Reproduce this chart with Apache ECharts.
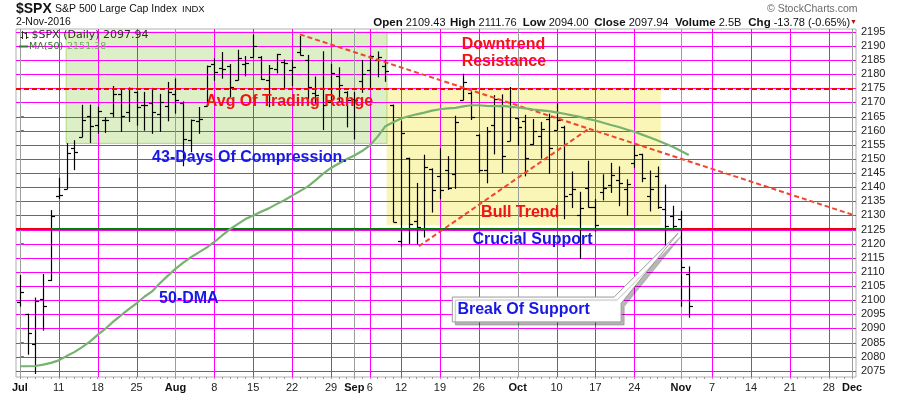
<!DOCTYPE html>
<html><head><meta charset="utf-8">
<script src="https://cdn.jsdelivr.net/npm/echarts@6/dist/echarts.min.js"></script>
<style>html,body{margin:0;padding:0;background:#fff}#c{width:900px;height:396px}</style>
</head><body><div id="c"></div>
<script>
// ---------- DATA ----------
const dates = [
'2016-07-01','2016-07-05','2016-07-06','2016-07-07','2016-07-08',
'2016-07-11','2016-07-12','2016-07-13','2016-07-14','2016-07-15',
'2016-07-18','2016-07-19','2016-07-20','2016-07-21','2016-07-22',
'2016-07-25','2016-07-26','2016-07-27','2016-07-28','2016-07-29',
'2016-08-01','2016-08-02','2016-08-03','2016-08-04','2016-08-05',
'2016-08-08','2016-08-09','2016-08-10','2016-08-11','2016-08-12',
'2016-08-15','2016-08-16','2016-08-17','2016-08-18','2016-08-19',
'2016-08-22','2016-08-23','2016-08-24','2016-08-25','2016-08-26',
'2016-08-29','2016-08-30','2016-08-31','2016-09-01','2016-09-02',
'2016-09-06','2016-09-07','2016-09-08','2016-09-09',
'2016-09-12','2016-09-13','2016-09-14','2016-09-15','2016-09-16',
'2016-09-19','2016-09-20','2016-09-21','2016-09-22','2016-09-23',
'2016-09-26','2016-09-27','2016-09-28','2016-09-29','2016-09-30',
'2016-10-03','2016-10-04','2016-10-05','2016-10-06','2016-10-07',
'2016-10-10','2016-10-11','2016-10-12','2016-10-13','2016-10-14',
'2016-10-17','2016-10-18','2016-10-19','2016-10-20','2016-10-21',
'2016-10-24','2016-10-25','2016-10-26','2016-10-27','2016-10-28',
'2016-10-31','2016-11-01','2016-11-02'];
const futureDates = [
'2016-11-03','2016-11-04','2016-11-07','2016-11-08','2016-11-09','2016-11-10','2016-11-11',
'2016-11-14','2016-11-15','2016-11-16','2016-11-17','2016-11-18',
'2016-11-21','2016-11-22','2016-11-23','2016-11-24','2016-11-25',
'2016-11-28','2016-11-29','2016-11-30','2016-12-01'];
const opens = [
2099.34,2095.05,2084.43,2100.42,2106.97,
2137.00,2139.50,2153.81,2157.88,2165.13,
2162.04,2163.79,2166.10,2172.91,2166.47,
2173.71,2168.97,2169.81,2166.05,2168.83,
2173.15,2169.94,2156.81,2163.51,2168.79,
2183.76,2182.24,2182.81,2177.97,2183.74,
2186.08,2186.24,2177.84,2181.90,2184.24,
2181.58,2187.81,2185.09,2173.29,2175.10,
2170.19,2179.45,2173.56,2171.33,2177.49,
2181.61,2185.17,2182.76,2169.08,
2120.86,2150.27,2127.86,2125.36,2146.48,
2143.99,2145.94,2144.58,2170.94,2173.29,
2158.54,2146.04,2161.85,2168.90,2156.51,
2164.33,2163.37,2155.15,2158.22,2164.19,
2160.39,2161.35,2137.67,2130.26,2139.68,
2132.95,2138.31,2140.81,2142.51,2139.43,
2148.50,2151.66,2136.97,2144.06,2132.23,
2129.78,2128.68,2109.43];
const highs = [
2108.71,2095.05,2100.72,2109.08,2131.71,
2143.16,2155.40,2156.45,2168.99,2169.05,
2168.35,2164.63,2175.63,2174.56,2175.11,
2173.71,2173.54,2174.98,2172.85,2177.09,
2178.29,2170.20,2163.79,2168.19,2182.87,
2185.44,2187.66,2183.41,2188.45,2186.28,
2193.81,2186.24,2183.08,2187.03,2185.00,
2184.93,2193.42,2186.66,2179.00,2187.94,
2183.48,2182.27,2173.79,2173.56,2184.87,
2186.57,2187.87,2184.94,2169.08,
2163.30,2150.27,2141.33,2151.31,2146.48,
2153.61,2150.80,2165.11,2179.99,2173.75,
2158.54,2161.13,2172.40,2172.67,2175.30,
2164.41,2165.46,2163.95,2162.93,2165.86,
2169.60,2161.56,2145.36,2138.19,2149.19,
2135.61,2144.38,2148.44,2147.18,2142.63,
2154.79,2151.66,2145.73,2147.13,2140.72,
2133.25,2131.45,2111.76];
const lows = [
2097.90,2080.86,2074.02,2089.39,2106.97,
2136.00,2139.50,2146.21,2157.88,2155.79,
2159.07,2159.40,2164.89,2159.75,2163.24,
2161.95,2160.18,2159.07,2159.74,2163.49,
2166.21,2147.58,2152.56,2159.07,2168.79,
2177.85,2178.61,2172.00,2177.97,2179.42,
2186.08,2178.14,2168.50,2180.46,2175.13,
2175.96,2186.80,2171.25,2169.74,2160.39,
2170.19,2170.41,2161.35,2157.09,2173.59,
2175.10,2179.07,2177.49,2127.81,
2119.12,2120.07,2119.90,2122.36,2131.20,
2135.91,2139.17,2139.57,2170.94,2163.97,
2145.04,2141.55,2151.79,2145.20,2156.51,
2154.77,2144.01,2155.15,2150.28,2144.85,
2160.39,2128.84,2132.77,2114.72,2132.98,
2124.43,2135.49,2138.15,2133.44,2130.09,
2146.91,2141.93,2131.59,2132.52,2119.36,
2125.53,2097.85,2094.00];
const closes = [
2102.95,2088.55,2099.73,2097.90,2129.90,
2137.16,2152.14,2152.43,2163.75,2161.74,
2166.89,2163.78,2173.02,2165.17,2175.03,
2168.48,2169.18,2166.58,2170.06,2173.60,
2170.84,2157.03,2163.79,2164.25,2182.87,
2180.89,2181.74,2175.49,2185.79,2184.05,
2190.15,2178.15,2182.22,2187.02,2183.87,
2182.64,2186.90,2175.44,2172.47,2169.04,
2180.38,2176.12,2170.95,2170.86,2179.98,
2186.48,2186.16,2181.30,2127.81,
2159.04,2127.02,2125.77,2147.26,2139.16,
2139.12,2139.76,2163.12,2177.18,2164.69,
2146.10,2159.93,2171.37,2151.13,2168.27,
2161.20,2150.49,2159.73,2160.77,2153.74,
2163.66,2136.73,2139.18,2132.55,2132.98,
2126.50,2139.60,2144.29,2141.34,2141.16,
2151.33,2143.16,2139.43,2133.04,2126.41,
2126.15,2111.72,2097.94];
const ma50 = [
2076.6,2076.6,2076.7,2077.2,2077.8,2078.7,2080.2,2081.6,2083.4,2085.3,
2087.7,2089.9,2092.4,2094.6,2096.8,2098.9,2101.2,2103.1,2106.0,2108.6,
2111.1,2113.3,2115.2,2116.9,2118.6,2120.6,2122.9,2125.1,2126.9,2128.7,
2130.0,2131.3,2132.5,2134.0,2135.4,2137.0,2138.6,2140.2,2142.4,2144.8,
2146.8,2148.4,2149.9,2151.2,2152.8,2154.8,2157.9,2161.6,2163.0,2164.3,
2165.1,2165.8,2166.4,2167.1,2167.6,2167.9,2168.1,2168.6,2169.0,2169.0,
2168.8,2168.7,2168.8,2168.5,2168.2,2167.9,2167.5,2167.2,2166.9,2166.5,
2166.0,2165.4,2164.9,2164.2,2163.6,2162.8,2162.0,2161.3,2160.4,2159.6,
2158.6,2157.6,2156.5,2155.4,2154.2,2152.8,2151.38];
const yTicks = [2075,2080,2085,2090,2095,2100,2105,2110,2115,2120,2125,2130,2135,2140,2145,2150,2155,2160,2165,2170,2175,2180,2185,2190,2195];
const xTickDates = ['2016-07-01','2016-07-11','2016-07-18','2016-07-25','2016-08-01','2016-08-08','2016-08-15','2016-08-22','2016-08-29','2016-09-01','2016-09-06','2016-09-12','2016-09-19','2016-09-26','2016-10-03','2016-10-10','2016-10-17','2016-10-24','2016-11-01','2016-11-07','2016-11-14','2016-11-21','2016-11-28','2016-12-01'];
const xTickLabels = ['Jul','11','18','25','Aug','8','15','22','29','Sep','6','12','19','26','Oct','10','17','24','Nov','7','14','21','28','Dec'];
const monthNames = ['Jul','Aug','Sep','Oct','Nov','Dec'];
const avgRangeLevel = 2175;
const supportLevel = 2125.4;

// ---------- BUILD ----------
const allDates = dates.concat(futureDates);
const N = allDates.length;
const idx = d => allDates.indexOf(d);
const xTickIdx = xTickDates.map(idx);
const dayIdx = allDates.map((d,i)=>i);
const ohlc = dates.map((d,i)=>[i, opens[i], highs[i], lows[i], closes[i]]);
const maData = dates.map((d,i)=>[i, ma50[i]]);

const RED='#f01414', BLUE='#1818e6', TREND='#ee4630';
const FONT='"Liberation Sans", Arial, sans-serif';

const A = {
  compression:{x0:5.95, x1:47.2, y0:2155.5, y1:2194.9},
  range:{x0:47.15, x1:82.4, y0:2126.6, y1:2175},
  supportGreen:[idx('2016-07-08'), idx('2016-11-01')],
  down:[[idx('2016-08-23'),2194.1],[idx('2016-12-01'),2130.3]],
  bull:[[51.3,2119.1],[73.2,2160.8]]
};

const chart = echarts.init(document.getElementById('c'), null, {renderer:'canvas'});
chart.setOption({
  animation:false,
  backgroundColor:'#fff',
  grid:{left:16,right:44,top:29,bottom:19,show:true,borderColor:'#b0b0b0',borderWidth:1},
  xAxis:[{
    type:'value', min:-0.5, max:N-0.5, position:'bottom',
    axisLine:{show:false},
    axisTick:{show:true,length:0,customValues:xTickIdx},
    axisLabel:{customValues:xTickIdx, margin:5, fontSize:11, fontFamily:FONT, color:'#222',
      formatter:function(v){const k=xTickIdx.indexOf(Math.round(v)); const t=xTickLabels[k]; if(t===undefined) return ''; return monthNames.includes(t)?'{m|'+t+'}':t;},
      rich:{m:{fontWeight:'bold',fontSize:11,fontFamily:FONT,color:'#111'}}},
    splitLine:{show:false}
  },{
    type:'value', min:-0.5, max:N-0.5, position:'bottom', offset:0,
    axisLine:{show:false},
    axisTick:{show:true,length:2,inside:false,customValues:dayIdx,lineStyle:{color:'#999'}},
    axisLabel:{show:false}, splitLine:{show:false}
  }],
  yAxis:{
    type:'value', position:'right', min:2072.8, max:2196,
    axisLine:{show:true,lineStyle:{color:'#b0b0b0'}},
    axisTick:{show:true,length:4,customValues:yTicks,lineStyle:{color:'#777'}},
    axisLabel:{customValues:yTicks,margin:5,fontSize:11,fontFamily:FONT,color:'#222',formatter:v=>String(v)},
    splitLine:{show:false}
  },
  series:[
    {
      type:'custom', name:'$SPX', data:ohlc, encode:{x:0,y:[1,2,3,4]}, z:3, clip:true,
      renderItem:function(params, api){
        const i=api.value(0);
        const x=Math.round(api.coord([i,api.value(2)])[0])+0.5;
        const yo=api.coord([i,api.value(1)])[1];
        const yh=api.coord([i,api.value(2)])[1];
        const yl=api.coord([i,api.value(3)])[1];
        const yc=api.coord([i,api.value(4)])[1];
        const st={stroke:'#000',lineWidth:1.2};
        return {type:'group',children:[
          {type:'line',shape:{x1:x,y1:yh-0.5,x2:x,y2:yl+0.5},style:st},
          {type:'line',shape:{x1:x-3.5,y1:Math.round(yo)+0.5,x2:x,y2:Math.round(yo)+0.5},style:st},
          {type:'line',shape:{x1:x,y1:Math.round(yc)+0.5,x2:x+3.5,y2:Math.round(yc)+0.5},style:st}
        ]};
      }
    },
    {
      type:'line', data:[], z:4, silent:true,
      markArea:{silent:true,
        data:[
          [{coord:[A.compression.x0,A.compression.y1],itemStyle:{color:'rgba(118,190,28,0.25)',borderColor:'rgba(150,205,90,0.7)',borderWidth:1}},{coord:[A.compression.x1,A.compression.y0]}],
          [{coord:[A.range.x0,A.range.y1],itemStyle:{color:'rgba(236,226,30,0.32)',borderWidth:0}},{coord:[A.range.x1,A.range.y0]}]
        ]}
    },
    {
      type:'line', name:'MA(50)', data:maData, z:5, showSymbol:false, symbol:'none', silent:true,
      lineStyle:{color:'#78b270',width:2.2}
    },
    {
      type:'line', data:[], z:6, silent:true,
      markLine:{silent:true,symbol:['none','none'],label:{show:false},
        data:[
          {yAxis:avgRangeLevel,lineStyle:{color:'#ff0000',width:2,type:[5,3]}},
          [{coord:[-0.5,supportLevel],lineStyle:{color:'#ee0000',width:2,type:'solid'}},{coord:[A.supportGreen[0],supportLevel]}],
          [{coord:[A.supportGreen[0],supportLevel],lineStyle:{color:'#008000',width:2,type:'solid'}},{coord:[A.supportGreen[1],supportLevel]}],
          [{coord:[A.supportGreen[1],supportLevel],lineStyle:{color:'#ee0000',width:2,type:'solid'}},{coord:[N-0.5,supportLevel]}],
          [{coord:A.down[0],lineStyle:{color:TREND,width:2,type:[5,3]}},{coord:A.down[1]}],
          [{coord:A.bull[0],lineStyle:{color:TREND,width:2,type:[5,3]}},{coord:A.bull[1]}]
        ]}
    }
  ]
});

// ---------- GRID LINES + ANNOTATIONS ----------
const P = (i,v)=>chart.convertToPixel({seriesIndex:0},[i,v]);
const g = [];
const gx0=P(-0.5,2100)[0], gx1=P(N-0.5,2100)[0], gy0=P(0,2196)[1], gy1=P(0,2072.8)[1];
yTicks.forEach(v=>{const y=Math.round(P(0,v)[1])+0.5; g.push({type:'line',z:1,silent:true,shape:{x1:gx0,y1:y,x2:gx1,y2:y},style:{stroke:'#ff00ff',lineWidth:1}});});
xTickIdx.forEach((i,k)=>{const x=Math.round(P(i,2100)[0])+0.5; const m=monthNames.includes(xTickLabels[k]); g.push({type:'line',z:1,silent:true,shape:{x1:x,y1:gy0,x2:x,y2:gy1},style:{stroke:m?'#9c9c9c':'#ff00ff',lineWidth:1}});});

const notes = [
  {t:'Downtrend', at:[56.8,2190.6], c:RED},
  {t:'Resistance', at:[56.8,2184.3], c:RED},
  {t:'Avg Of Trading Range', at:[23.9,2170.3], c:RED},
  {t:'43-Days Of Compression.', at:[17.0,2150.6], c:BLUE},
  {t:'Bull Trend', at:[59.3,2131.0], c:RED},
  {t:'Crucial Support', at:[58.2,2121.3], c:BLUE},
  {t:'50-DMA', at:[17.9,2100.7], c:BLUE}
];
notes.forEach(n=>{const p=P(n.at[0],n.at[1]); g.push({type:'text',x:p[0],y:p[1],z:120,style:{text:n.t,fill:n.c,font:'bold 16px '+FONT,align:'left',verticalAlign:'middle'}});});

const bTL=P(55.6,2101.1), bBR=P(77.3,2092.3), wL=P(76.4,2101.1), tip=P(84.6,2123.6), wR=P(77.3,2098.9);
g.push({type:'polygon',z:110,shape:{points:[[bTL[0],bTL[1]],[wL[0],bTL[1]],[tip[0],tip[1]],[bBR[0],wR[1]],[bBR[0],bBR[1]],[bTL[0],bBR[1]]]},
  style:{fill:'#fff',stroke:'#9a9a9a',lineWidth:1,shadowColor:'rgba(0,0,0,0.28)',shadowOffsetX:3,shadowOffsetY:3,shadowBlur:1}});
const bt=P(56.25,2096.6);
g.push({type:'text',x:bt[0],y:bt[1],z:121,style:{text:'Break Of Support',fill:BLUE,font:'bold 16px '+FONT,align:'left',verticalAlign:'middle'}});

// header
g.push({type:'text',x:16,y:9,style:{text:'$SPX',fill:'#111',font:'bold 14px '+FONT,verticalAlign:'middle'}});
g.push({type:'text',x:55,y:9.5,style:{text:'S&P 500 Large Cap Index',fill:'#111',font:'10.5px '+FONT,verticalAlign:'middle'}});
g.push({type:'text',x:182,y:9.5,style:{text:'INDX',fill:'#111',font:'9.5px '+FONT,verticalAlign:'middle'}});
g.push({type:'text',x:16,y:22.5,style:{text:'2-Nov-2016',fill:'#111',font:'10.5px '+FONT,verticalAlign:'middle'}});
g.push({type:'text',x:767,y:9,style:{text:'\u00A9 StockCharts.com',fill:'#6a6a6a',font:'10.5px '+FONT,verticalAlign:'middle'}});
const hdr=[['Open','2109.43',373.3],['High','2111.76',450],['Low','2094.00',522.7],['Close','2097.94',594.3],['Volume','2.5B',675],['Chg','-13.78 (-0.65%)',748.3]];
hdr.forEach(h=>g.push({type:'text',x:h[2],y:22.5,style:{text:'{b|'+h[0]+'} '+h[1],fill:'#111',font:'11px '+FONT,verticalAlign:'middle',rich:{b:{fontWeight:'bold',fontSize:11.5,fontFamily:FONT,fill:'#111'}}}}));
g.push({type:'text',x:850,y:22,style:{text:'\u25BC',fill:'#b01010',font:'7px '+FONT,verticalAlign:'middle'}});

// legend
const lg='#2a3320';
g.push({type:'line',z:130,shape:{x1:22.5,y1:31,x2:22.5,y2:39},style:{stroke:lg,lineWidth:1}});
g.push({type:'line',z:130,shape:{x1:20.5,y1:37.5,x2:22.5,y2:37.5},style:{stroke:lg,lineWidth:1}});
g.push({type:'line',z:130,shape:{x1:22.5,y1:32.5,x2:24.5,y2:32.5},style:{stroke:lg,lineWidth:1}});
g.push({type:'line',z:130,shape:{x1:26.5,y1:32,x2:26.5,y2:39},style:{stroke:lg,lineWidth:1}});
g.push({type:'line',z:130,shape:{x1:24.5,y1:33.5,x2:26.5,y2:33.5},style:{stroke:lg,lineWidth:1}});
g.push({type:'line',z:130,shape:{x1:26.5,y1:37.5,x2:28.5,y2:37.5},style:{stroke:lg,lineWidth:1}});
g.push({type:'text',z:130,x:31.5,y:35,style:{text:'$SPX (Daily) 2097.94',fill:lg,font:'11px "DejaVu Sans", sans-serif',verticalAlign:'middle'}});
g.push({type:'line',z:130,shape:{x1:19,y1:46.5,x2:28,y2:46.5},style:{stroke:'#2e7a2e',lineWidth:2}});
g.push({type:'text',z:130,x:29,y:46.5,style:{text:'MA(50)',fill:'#2e6e2e',font:'9.5px "DejaVu Sans", sans-serif',verticalAlign:'middle'}});
g.push({type:'text',z:130,x:67,y:46.5,style:{text:'2151.38',fill:'#72ad62',font:'9.5px "DejaVu Sans", sans-serif',verticalAlign:'middle'}});

chart.setOption({graphic:g});
</script></body></html>
